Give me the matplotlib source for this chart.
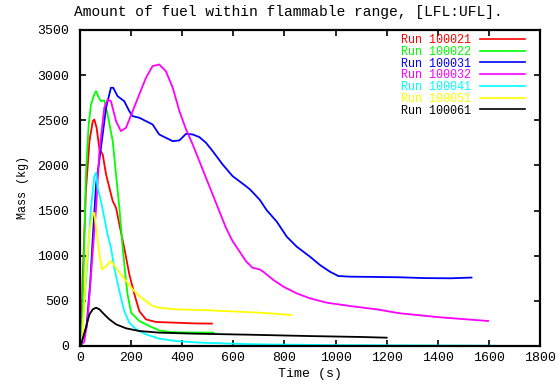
import matplotlib as mpl
mpl.use('Agg')
import matplotlib.pyplot as plt

plt.rcParams['font.family'] = ['Liberation Mono', 'DejaVu Sans Mono']

# run names and colours (gnuplot style)
runs = ['Run 100021', 'Run 100022', 'Run 100031', 'Run 100032',
        'Run 100041', 'Run 100051', 'Run 100061']
colors = ['#ff0000', '#00ff00', '#0000ff', '#ff00ff', '#00ffff', '#ffff00', '#000000']

# time (s) / mass (kg)
t_100021 = [0, 5, 10, 23, 37, 50, 56, 65, 76, 89, 102, 115, 128, 141, 154, 173, 193, 213, 232, 258, 297, 376, 450, 516]
m_100021 = [0, 150, 700, 1716, 2269, 2491, 2509, 2417, 2180, 2120, 1900, 1753, 1605, 1531, 1347, 1089, 793, 572, 387, 295, 266, 258, 250, 248]

t_100022 = [0, 8, 17, 23, 34, 43, 56, 63, 72, 82, 95, 108, 128, 141, 154, 167, 180, 186, 200, 232, 271, 310, 350, 420, 523]
m_100022 = [0, 203, 1162, 1900, 2454, 2675, 2786, 2823, 2760, 2712, 2720, 2565, 2270, 1900, 1531, 1089, 720, 572, 369, 277, 221, 173, 155, 150, 148]

t_100031 = [0, 25, 40, 50, 63, 82, 102, 121, 130, 147, 173, 193, 206, 232, 258, 284, 310, 336, 363, 389, 415, 441, 467, 493,
            519, 558, 597, 649, 665, 704, 730, 770, 809, 848, 900, 939, 978, 1011, 1056, 1150, 1252, 1350, 1450, 1532]
m_100031 = [0, 200, 700, 1200, 1790, 2195, 2638, 2860, 2860, 2767, 2712, 2601, 2546, 2528, 2491, 2454, 2343, 2306, 2269, 2277, 2350, 2343, 2314, 2251,
            2159, 2011, 1882, 1771, 1735, 1617, 1506, 1377, 1211, 1100, 989, 897, 823, 775, 768, 765, 761, 752, 750, 758]

t_100032 = [0, 17, 30, 43, 63, 76, 95, 108, 121, 141, 160, 180, 206, 232, 258, 284, 310, 336, 363, 389, 415, 441, 467, 493,
            519, 545, 571, 597, 623, 649, 675, 702, 717, 757, 796, 848, 900, 965, 1056, 1161, 1252, 1408, 1597]
m_100032 = [0, 50, 300, 793, 1531, 2159, 2638, 2730, 2712, 2491, 2380, 2417, 2601, 2786, 2970, 3100, 3118, 3044, 2860, 2601, 2399, 2232, 2048, 1863,
            1679, 1494, 1310, 1162, 1052, 941, 867, 849, 823, 731, 657, 583, 528, 480, 443, 406, 362, 318, 277]

t_100041 = [0, 10, 30, 43, 56, 63, 69, 82, 95, 108, 121, 134, 154, 173, 193, 219, 258, 310, 376, 467, 597, 702, 850, 1000, 1200, 1480, 1624]
m_100041 = [0, 240, 978, 1531, 1880, 1920, 1753, 1605, 1421, 1236, 1089, 867, 609, 387, 258, 185, 129, 81, 55, 37, 26, 18, 14, 10, 8, 5, 3]

t_100051 = [0, 10, 23, 37, 50, 56, 63, 76, 86, 102, 121, 141, 160, 180, 206, 232, 258, 284, 310, 376, 506, 702, 828]
m_100051 = [0, 129, 793, 1273, 1458, 1476, 1310, 1015, 849, 886, 941, 867, 793, 720, 627, 553, 498, 443, 424, 406, 395, 369, 344]

t_100061 = [0, 4, 23, 37, 50, 63, 76, 95, 115, 141, 180, 232, 310, 441, 665, 900, 1100, 1200]
m_100061 = [0, 18, 203, 350, 406, 424, 406, 350, 295, 240, 196, 166, 148, 137, 125, 110, 100, 92]

times = [t_100021, t_100022, t_100031, t_100032, t_100041, t_100051, t_100061]
masses = [m_100021, m_100022, m_100031, m_100032, m_100041, m_100051, m_100061]

fig = plt.figure(figsize=(5.59, 3.85), dpi=100)
ax = fig.add_axes([80/559, 39/385, 460/559, 316/385])

for t, m, lab, c in zip(times, masses, runs, colors):
    ax.plot(t, m, color=c, lw=1.3, label=lab)

ax.set_xlim(0, 1800)
ax.set_ylim(0, 3500)
ax.set_xticks(range(0, 1801, 200))
ax.set_yticks(range(0, 3501, 500))
ax.tick_params(direction='in', top=True, right=True, length=4, width=1.2, labelsize=9.5)
ax.tick_params(axis='y', pad=8)
ax.tick_params(axis='x', pad=4)
for s in ax.spines.values():
    s.set_linewidth(1.6)

ax.set_xlabel('Time (s)', fontsize=9.5, labelpad=3)
ax.set_ylabel('Mass (kg)', fontsize=8.5, labelpad=6)
fig.text(288/559, 1 - 12/385, 'Amount of fuel within flammable range, [LFL:UFL].',
         ha='center', va='center', fontsize=10.5)

leg = ax.legend(loc='upper right', bbox_to_anchor=(525/559, 1 - 34/385), bbox_transform=fig.transFigure,
                frameon=False, markerfirst=False, fontsize=8.5, labelcolor='linecolor',
                handlelength=3.8, handletextpad=0.8, labelspacing=-0.02, borderpad=0, borderaxespad=0)
for h in leg.get_lines():
    h.set_linewidth(1.2)

plt.savefig('out.png', dpi=100)
